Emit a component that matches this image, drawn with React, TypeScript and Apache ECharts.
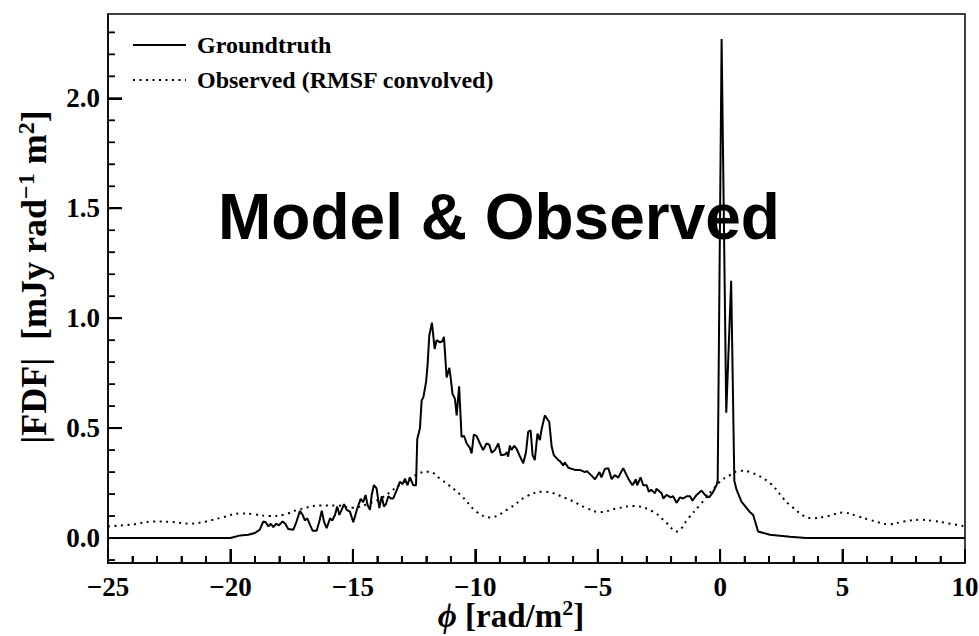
import React, { useEffect, useRef } from 'react';
import * as echarts from 'echarts';

// Groundtruth Faraday dispersion function (phi in rad/m^2, |FDF| in mJy rad^-1 m^2)
const phiTrue = [
  -25, -20.0, -19.6, -19.27, -19.0, -18.8, -18.66, -18.56, -18.45, -18.35, -18.25, -18.13, -18.02,
  -17.87, -17.76, -17.64, -17.43, -17.3, -17.16, -17.05, -16.96, -16.86, -16.75, -16.64, -16.48,
  -16.37, -16.27, -16.18, -16.07, -15.93, -15.84, -15.73, -15.64, -15.55, -15.46, -15.36, -15.25,
  -15.12, -14.98, -14.84, -14.68, -14.58, -14.48, -14.4, -14.3, -14.23, -14.14, -14.03, -13.92,
  -13.82, -13.73, -13.65, -13.55, -13.45, -13.35, -13.21, -13.08, -12.97, -12.87, -12.77, -12.67,
  -12.53, -12.42, -12.37, -12.33, -12.26, -12.19, -12.12, -12.01, -11.95, -11.88, -11.77, -11.66,
  -11.58, -11.44, -11.35, -11.28, -11.17, -11.06, -11.0, -10.93, -10.83, -10.76, -10.66, -10.56,
  -10.46, -10.35, -10.22, -10.15, -10.06, -9.95, -9.81, -9.68, -9.54, -9.43, -9.33, -9.2, -9.06,
  -8.95, -8.79, -8.7, -8.66, -8.59, -8.52, -8.41, -8.31, -8.2, -8.04, -7.93, -7.84, -7.74, -7.66,
  -7.57, -7.46, -7.36, -7.3, -7.16, -6.98, -6.88, -6.79, -6.61, -6.54, -6.41, -6.35, -6.2, -5.93,
  -5.73, -5.52, -5.45, -5.25, -5.11, -4.93, -4.85, -4.71, -4.57, -4.43, -4.3, -4.16, -3.96, -3.75,
  -3.58, -3.44, -3.39, -3.25, -3.14, -3.0, -2.91, -2.82, -2.66, -2.6, -2.39, -2.32, -2.19, -2.02,
  -1.92, -1.78, -1.64, -1.51, -1.37, -1.23, -1.13, -0.96, -0.76, -0.62, -0.45, -0.31, -0.15, -0.1,
  0.06, 0.25, 0.45, 0.58, 0.67, 0.87, 1.2, 1.35, 1.55, 2.03, 2.85, 3.5, 10,
];
const fdfTrue = [
  0, 0, 0.012, 0.015, 0.023, 0.038, 0.075, 0.072, 0.053, 0.065, 0.05, 0.065, 0.058,
  0.075, 0.065, 0.041, 0.038, 0.075, 0.124, 0.105, 0.08, 0.09, 0.06, 0.033, 0.033,
  0.075, 0.124, 0.075, 0.045, 0.09, 0.08, 0.105, 0.143, 0.105, 0.128, 0.154, 0.128,
  0.12, 0.072, 0.128, 0.178, 0.163, 0.196, 0.15, 0.128, 0.196, 0.241, 0.226, 0.136,
  0.19, 0.143, 0.154, 0.19, 0.18, 0.18, 0.218, 0.256, 0.245, 0.27, 0.24, 0.276,
  0.24, 0.24, 0.45, 0.467, 0.5, 0.626, 0.64, 0.71, 0.784, 0.92, 0.98, 0.86,
  0.9, 0.89, 0.895, 0.915, 0.73, 0.774, 0.724, 0.656, 0.633, 0.558, 0.69, 0.46,
  0.465, 0.43, 0.41, 0.385, 0.47, 0.465, 0.43, 0.4, 0.43, 0.425, 0.388, 0.4, 0.43,
  0.377, 0.38, 0.39, 0.37, 0.42, 0.4, 0.42, 0.405, 0.377, 0.34, 0.39, 0.483, 0.49, 0.377,
  0.354, 0.475, 0.445, 0.49, 0.558, 0.528, 0.415, 0.377, 0.354, 0.35, 0.33, 0.344, 0.32, 0.31,
  0.31, 0.3, 0.305, 0.284, 0.267, 0.3, 0.276, 0.314, 0.318, 0.268, 0.286, 0.275, 0.318, 0.27,
  0.24, 0.267, 0.24, 0.276, 0.24, 0.24, 0.21, 0.22, 0.204, 0.224, 0.204, 0.18, 0.196, 0.185,
  0.19, 0.16, 0.185, 0.18, 0.19, 0.19, 0.17, 0.196, 0.216, 0.196, 0.185, 0.205, 0.24, 0.26,
  2.27, 0.57, 1.17, 0.26, 0.22, 0.166, 0.12, 0.105, 0.03, 0.015, 0.006, 0, 0,
];

// Observed (RMSF convolved) FDF
const phiObs = [
  -25, -24, -23.2, -22.5, -21.65, -21, -20.3, -19.6, -19, -18.4, -17.8, -17.2, -16.3, -15.6, -15.0,
  -14.4, -13.8, -13.1, -12.3, -11.9, -11.44, -10.6, -9.95, -9.4, -8.6, -7.9, -7.24, -6.27, -5.45,
  -4.9, -4.2, -3.55, -2.74, -2.2, -1.78, -1.3, -0.83, -0.01, 0.4, 0.8, 1.21, 2.03, 2.85, 3.8, 4.4,
  5.02, 5.6, 6.1, 6.93, 7.5, 8.16, 8.7, 9.25, 10,
];
const fdfObs = [
  0.053, 0.062, 0.075, 0.074, 0.066, 0.075, 0.095, 0.112, 0.108, 0.1, 0.107, 0.13, 0.148, 0.148, 0.138,
  0.155, 0.184, 0.24, 0.294, 0.302, 0.27, 0.196, 0.12, 0.094, 0.136, 0.19, 0.211, 0.18, 0.136,
  0.118, 0.135, 0.146, 0.12, 0.07, 0.03, 0.09, 0.15, 0.256, 0.286, 0.306, 0.3, 0.25, 0.15, 0.09, 0.1,
  0.116, 0.1, 0.083, 0.063, 0.075, 0.083, 0.078, 0.068, 0.053,
];

// Axis limits and tick positions
const xMin = -25;
const xMax = 10;
const xStep = 5;
const yMin = -0.1135;
const yMax = 2.3835;
const xMajorTicks = [-25, -20, -15, -10, -5, 0, 5, 10];
const xMinorTicks = [
  -24, -23, -22, -21, -19, -18, -17, -16, -14, -13, -12, -11, -9, -8, -7, -6, -4, -3, -2, -1,
  1, 2, 3, 4, 6, 7, 8, 9,
];
const yMajorTicks = [0, 0.5, 1.0, 1.5, 2.0];
const yMinorTicks = [-0.1, 0.1, 0.2, 0.3, 0.4, 0.6, 0.7, 0.8, 0.9, 1.1, 1.2, 1.3, 1.4, 1.6, 1.7, 1.8, 1.9, 2.1, 2.2, 2.3];

const SERIF = "'Liberation Serif', 'DejaVu Serif', 'Times New Roman', serif";
const SANS = "'Liberation Sans', Arial, Helvetica, sans-serif";
const MAJOR_LEN = 14;
const MINOR_LEN = 7;

export default function App() {
  const ref = useRef<HTMLDivElement>(null);

  useEffect(() => {
    document.body.style.margin = '0';
    if (!ref.current) return;
    const chart = echarts.init(ref.current, undefined, { renderer: 'svg' });

    const fmtMinus = (v: number, digits: number) => {
      const s = Math.abs(v).toFixed(digits);
      return v < 0 ? '\u2212' + s : s;
    };

    // tick data: [x, y, length, orientation (0 = bottom axis, 1 = left axis)]
    const tickData: number[][] = [
      ...xMajorTicks.map((v) => [v, yMin, MAJOR_LEN, 0]),
      ...xMinorTicks.map((v) => [v, yMin, MINOR_LEN, 0]),
      ...yMajorTicks.map((v) => [xMin, v, MAJOR_LEN, 1]),
      ...yMinorTicks.map((v) => [xMin, v, MINOR_LEN, 1]),
    ];

    const option: any = {
      animation: false,
      grid: {
        left: 108,
        right: 14,
        top: 14,
        bottom: 73,
        outerBoundsMode: 'none',
        show: true,
        borderColor: '#000',
        borderWidth: 1.5,
      },
      legend: {
        orient: 'vertical',
        left: 127,
        top: 28,
        itemWidth: 53,
        itemHeight: 14,
        itemGap: 11,
        textStyle: {
          fontFamily: SERIF,
          fontWeight: 'bold',
          fontSize: 24,
          color: '#000',
          padding: [0, 0, 0, 6],
        },
        data: ['Groundtruth', 'Observed (RMSF convolved)'],
      },
      xAxis: {
        type: 'value',
        min: xMin,
        max: xMax,
        interval: xStep,
        axisLine: { show: true, onZero: false, lineStyle: { color: '#000', width: 1.5 } },
        axisTick: { show: true, inside: true, length: MAJOR_LEN, lineStyle: { color: '#000', width: 2 } },
        minorTick: { show: true, splitNumber: 5, length: MINOR_LEN, lineStyle: { color: '#000', width: 1.8 } },
        splitLine: { show: false },
        axisLabel: {
          margin: 10,
          fontFamily: SERIF,
          fontWeight: 'bold',
          fontSize: 27,
          color: '#000',
          formatter: (v: number) => fmtMinus(v, 0),
        },
      },
      yAxis: {
        type: 'value',
        min: yMin,
        max: yMax,
        axisLine: { show: true, onZero: false, lineStyle: { color: '#000', width: 1.5 } },
        axisTick: { show: true, inside: true, length: MAJOR_LEN, customValues: yMajorTicks, lineStyle: { color: '#000', width: 2 } },
        splitLine: { show: false },
        axisLabel: {
          margin: 8,
          customValues: yMajorTicks,
          fontFamily: SERIF,
          fontWeight: 'bold',
          fontSize: 27,
          color: '#000',
          formatter: (v: number) => fmtMinus(v, 1),
        },
      },
      graphic: [
        {
          type: 'text',
          x: 499,
          y: 217,
          style: {
            text: 'Model & Observed',
            fontFamily: SANS,
            fontWeight: 'bold',
            fontSize: 64,
            fill: '#000',
            align: 'center',
            verticalAlign: 'middle',
          },
        },
        {
          type: 'text',
          x: 511,
          y: 616,
          style: {
            text: '{i|\u03D5}{a| [rad/m}{s|2}{a|]}',
            align: 'center',
            verticalAlign: 'middle',
            rich: {
              i: { fontFamily: SERIF, fontStyle: 'italic', fontWeight: 'bold', fontSize: 33, fill: '#000', lineHeight: 40 },
              a: { fontFamily: SERIF, fontWeight: 'bold', fontSize: 33, fill: '#000', lineHeight: 40 },
              s: { fontFamily: SERIF, fontWeight: 'bold', fontSize: 22, fill: '#000', verticalAlign: 'top', lineHeight: 40 },
            },
          },
        },
        {
          type: 'text',
          x: 34,
          y: 277,
          rotation: Math.PI / 2,
          style: {
            text: '{a||FDF|  [mJy rad}{s|\u22121}{a| m}{s|2}{a|]}',
            align: 'center',
            verticalAlign: 'middle',
            rich: {
              a: { fontFamily: SERIF, fontWeight: 'bold', fontSize: 36, fill: '#000', lineHeight: 40 },
              s: { fontFamily: SERIF, fontWeight: 'bold', fontSize: 24, fill: '#000', verticalAlign: 'top', lineHeight: 40 },
            },
          },
        },
      ],
      series: [
        {
          name: 'Groundtruth',
          type: 'line',
          data: phiTrue.map((p, i) => [p, fdfTrue[i]]),
          showSymbol: false,
          lineStyle: { color: '#000', width: 2 },
          itemStyle: { color: '#000', opacity: 0 },
        },
        {
          name: 'Observed (RMSF convolved)',
          type: 'line',
          smooth: 0.4,
          data: phiObs.map((p, i) => [p, fdfObs[i]]),
          showSymbol: false,
          lineStyle: { color: '#000', width: 2, type: [2, 4.5] },
          itemStyle: { color: '#000', opacity: 0 },
        },
        {
          type: 'custom',
          clip: false,
          z: 10,
          data: tickData,
          encode: { x: 0, y: 1 },
          renderItem: (params: any, api: any) => {
            const p = api.coord([api.value(0), api.value(1)]);
            const len = api.value(2);
            const vertical = api.value(3) === 0;
            return {
              type: 'line',
              shape: vertical
                ? { x1: p[0], y1: p[1], x2: p[0], y2: p[1] - len }
                : { x1: p[0], y1: p[1], x2: p[0] + len, y2: p[1] },
              style: { stroke: '#000', lineWidth: len === MAJOR_LEN ? 2 : 1.8 },
            };
          },
        },
      ],
    };

    chart.setOption(option);
    return () => chart.dispose();
  }, []);

  return <div ref={ref} style={{ width: 979, height: 636, background: '#fff' }} />;
}
